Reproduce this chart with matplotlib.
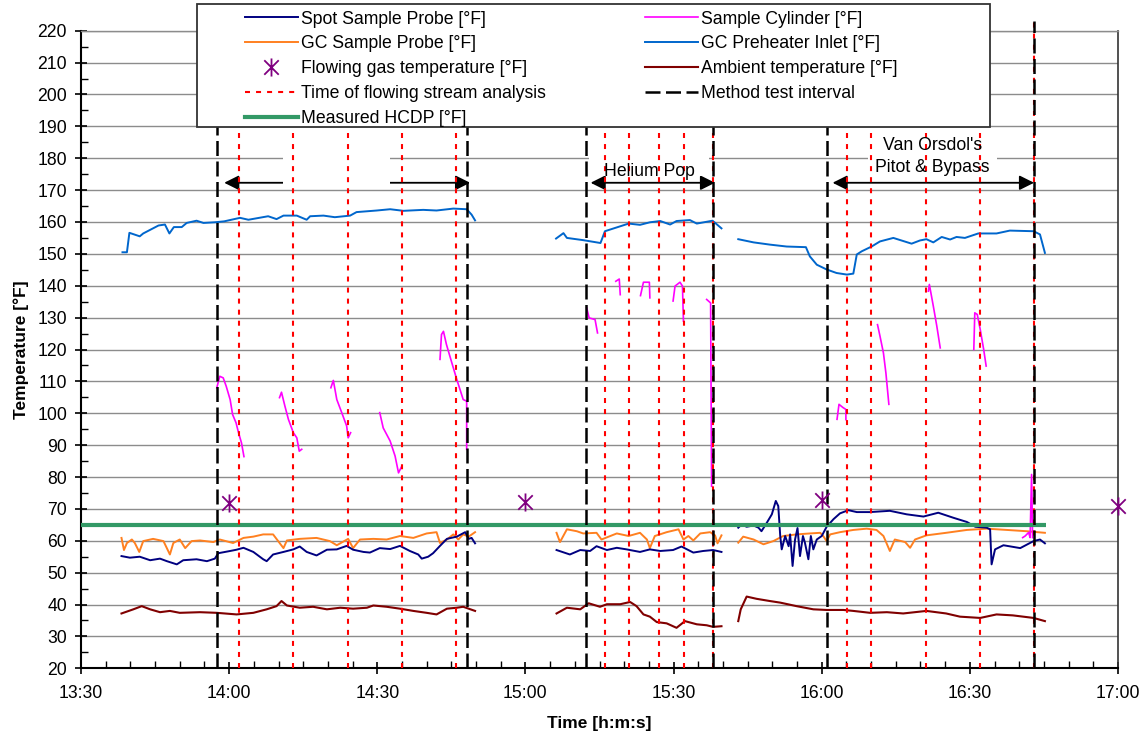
#!/usr/bin/env python3
"""Temperature traces recorded during the three method test intervals."""

import matplotlib as mpl
import matplotlib.pyplot as plt
from matplotlib.lines import Line2D
from matplotlib.patches import Rectangle
from matplotlib.path import Path
from matplotlib.ticker import FuncFormatter, MultipleLocator

OUT = "out.png"

# Time axis: minutes after 13:30.  Each series is split into logging segments.
preheat_t = [
    [8.4, 9.3, 9.8, 11.9, 12.6, 15.7, 17.0, 17.9, 18.8, 20.4, 21.4, 23.4, 24.8, 27.1, 29.0, 32.2, 33.9, 37.9,
     39.6, 41.0, 43.7, 45.7, 46.4, 49.1, 51.4, 54.5, 55.8, 59.9, 62.6, 65.3, 69.3, 72.0, 75.4, 78.1, 79.1, 79.8],
    [96.2, 97.7, 98.4, 101.7, 105.2, 106.1, 107.5, 110.9, 113.2, 115.2, 117.3, 119.3, 120.6, 123.3, 124.7, 127.9,
     129.7],
    [133.1, 136.2, 139.5, 142.9, 146.8, 147.6, 149.0, 151.0, 153.0, 155.1, 156.4, 157.1, 158.1, 160.1, 161.8,
     164.5, 168.2, 169.9, 171.2, 172.6, 174.3, 176.0, 177.3, 179.0, 181.7, 185.4, 188.1, 192.9, 194.2, 195.2],
]
preheat_v = [
    [150.5, 150.5, 156.6, 155.5, 156.4, 158.9, 159.2, 156.4, 158.4, 158.4, 159.7, 160.4, 159.7, 159.9, 160.2,
     161.3, 160.7, 161.8, 160.9, 162.0, 162.0, 160.7, 161.8, 162.0, 161.5, 162.0, 163.1, 163.6, 164.0, 163.5,
     163.8, 163.6, 164.2, 164.0, 162.3, 160.5],
    [154.8, 156.5, 155.0, 154.3, 153.4, 157.1, 157.8, 159.5, 159.1, 159.9, 160.3, 159.2, 160.3, 160.6, 159.5,
     160.4, 158.0],
    [154.6, 153.6, 152.9, 152.3, 152.1, 149.2, 146.6, 145.1, 144.0, 143.5, 143.8, 149.8, 150.8, 152.3, 153.9,
     155.0, 153.2, 154.2, 154.6, 153.6, 155.3, 154.5, 155.3, 155.0, 156.4, 156.4, 157.3, 157.1, 156.1, 150.3],
]

cyl_t = [
    [27.5, 28.1, 28.8, 29.4, 30.2, 30.7, 31.4, 31.9, 32.5, 33.0],
    [40.2, 40.6, 41.3, 42.0, 43.0, 43.7, 44.2, 44.7],
    [50.6, 51.1, 51.8, 52.8, 53.8, 54.1, 54.6],
    [60.5, 61.2, 62.6, 63.6, 64.3, 64.9],
    [72.7, 73.0, 73.4, 74.0, 75.1, 76.1, 77.4, 78.1, 78.1],
    [102.4, 102.9, 104.1, 104.6],
    [108.3, 109.0, 109.2],
    [113.3, 113.9, 115.1, 115.2],
    [119.9, 120.3, 121.3, 121.8, 122.0],
    [126.7, 127.5, 127.7],
    [153.1, 153.5, 154.3, 154.9, 154.9],
    [161.3, 161.8, 162.5, 163.0, 163.6],
    [171.6, 171.8, 172.6, 173.3, 174.0],
    [180.8, 181.0, 181.5, 182.1, 182.8, 183.3],
    [190.7, 191.2, 191.9, 192.2, 192.5, 192.7],
]
cyl_v = [
    [108.0, 111.6, 111.1, 108.5, 104.3, 99.6, 97.0, 93.9, 90.7, 86.4],
    [104.9, 106.6, 102.2, 98.1, 93.9, 92.3, 88.1, 88.7],
    [108.0, 110.3, 104.3, 100.2, 96.0, 92.3, 93.9],
    [100.2, 95.4, 91.3, 86.6, 81.3, 83.2],
    [116.9, 124.7, 125.7, 121.6, 115.8, 110.6, 104.3, 103.8, 88.7],
    [133.1, 129.9, 129.4, 125.2],
    [141.4, 142.1, 137.2],
    [136.9, 141.1, 141.1, 136.2],
    [135.2, 139.9, 141.1, 139.9, 128.9],
    [135.7, 134.6, 77.1],
    [98.1, 102.8, 101.8, 101.2, 98.0],
    [127.8, 124.2, 118.9, 112.6, 102.8],
    [138.3, 140.4, 133.6, 127.4, 120.5],
    [120.0, 131.5, 131.0, 126.3, 120.0, 114.8],
    [61.0, 61.5, 62.6, 61.0, 80.8, 61.0],
]

spot_t = [
    [8.2, 9.9, 11.9, 14.0, 16.0, 17.4, 19.4, 20.7, 23.4, 25.5, 27.1, 27.8, 30.2, 31.5, 32.9, 34.9, 36.9, 37.6,
     38.9, 41.0, 43.0, 44.3, 45.7, 47.7, 49.8, 51.8, 53.8, 55.1, 57.2, 58.5, 60.5, 62.6, 64.6, 66.6, 68.3, 69.0,
     70.3, 71.3, 72.7, 74.1, 76.1, 77.8, 78.5, 79.1, 79.8],
    [96.3, 99.0, 101.1, 103.1, 104.4, 106.5, 108.5, 110.5, 113.2, 115.2, 117.3, 119.9, 121.6, 124.0, 126.0, 128.0,
     129.7],
    [133.1, 133.8, 134.8, 136.2, 137.2, 137.8, 138.9, 139.9, 140.7, 141.2, 141.6, 141.9, 142.6, 143.3, 143.6,
     144.1, 144.6, 145.1, 145.6, 146.2, 146.6, 147.3, 147.8, 148.3, 149.0, 150.0, 151.0, 152.4, 153.7, 155.4,
     157.1, 159.8, 163.8, 167.2, 170.6, 173.6, 176.7, 179.4, 181.1, 183.4, 184.1, 184.4, 185.1, 186.8, 190.2,
     192.9, 194.2, 195.2],
]
spot_v = [
    [55.2, 54.7, 55.0, 53.9, 54.4, 53.6, 52.6, 53.9, 54.2, 53.6, 54.4, 56.1, 56.8, 57.2, 57.8, 56.5, 54.2, 53.6,
     55.7, 56.5, 57.3, 58.2, 56.5, 55.4, 57.2, 57.3, 58.4, 57.2, 56.5, 56.3, 57.7, 57.4, 58.4, 56.8, 55.7, 54.4,
     55.0, 56.1, 58.4, 60.6, 61.3, 62.7, 60.6, 60.9, 59.2],
    [57.1, 55.7, 57.1, 56.8, 58.3, 57.1, 57.8, 57.3, 56.5, 57.3, 56.8, 57.1, 58.2, 56.3, 56.8, 57.1, 56.5],
    [64.1, 65.1, 64.4, 64.8, 64.1, 63.0, 65.7, 68.3, 72.5, 70.9, 61.5, 57.3, 61.5, 58.3, 62.0, 52.1, 60.4, 64.0,
     55.2, 61.5, 59.4, 54.2, 61.5, 57.3, 60.4, 61.5, 64.4, 66.8, 68.6, 69.6, 69.0, 69.0, 69.4, 68.3, 67.6, 68.8,
     67.2, 65.9, 64.4, 64.1, 63.6, 52.6, 57.3, 58.6, 57.7, 59.9, 60.4, 59.2],
]

gc_t = [
    [8.2, 8.7, 9.3, 10.3, 10.9, 11.8, 12.6, 14.6, 16.7, 18.0, 18.7, 20.0, 21.1, 22.4, 24.1, 26.8, 28.1, 30.8,
     32.9, 34.9, 36.9, 38.9, 41.0, 41.7, 44.3, 47.7, 50.4, 51.8, 54.1, 55.1, 56.5, 59.2, 61.9, 64.6, 67.3, 70.0,
     72.0, 72.7, 74.1, 75.4, 76.4, 77.4, 78.5, 79.8],
    [96.3, 97.0, 98.4, 100.4, 101.7, 104.4, 105.4, 108.5, 110.9, 113.2, 114.6, 115.2, 116.2, 118.6, 121.0, 122.0,
     123.0, 124.0, 125.4, 127.4, 128.4, 128.9, 129.7],
    [133.1, 134.1, 136.2, 138.2, 140.2, 142.2, 144.9, 147.6, 149.7, 150.3, 151.0, 151.7, 153.7, 156.4, 159.1,
     161.1, 162.5, 163.8, 164.8, 166.9, 167.9, 168.9, 171.2, 175.2, 179.4, 183.4, 187.5, 191.5, 195.2],
]
gc_v = [
    [60.9, 57.1, 59.3, 60.4, 59.3, 56.5, 59.9, 60.6, 59.9, 55.7, 59.3, 60.4, 57.7, 59.9, 60.1, 59.6, 60.4, 59.3,
     60.9, 61.3, 62.0, 62.0, 57.7, 60.1, 60.6, 60.9, 59.9, 58.6, 60.6, 57.7, 60.4, 60.6, 60.4, 61.5, 60.9, 62.3,
     62.7, 59.3, 60.4, 62.0, 60.4, 62.0, 61.3, 62.7],
    [62.5, 59.6, 63.6, 63.0, 62.3, 62.5, 60.4, 62.3, 61.5, 62.5, 60.4, 57.7, 61.5, 62.7, 63.6, 60.4, 61.5, 60.1,
     62.3, 62.7, 61.7, 59.2, 61.7],
    [59.4, 61.3, 60.4, 58.9, 59.9, 61.5, 62.0, 62.3, 62.5, 61.5, 59.9, 62.0, 62.7, 63.4, 63.8, 63.4, 61.5, 56.8,
     60.4, 59.6, 57.8, 60.4, 61.7, 62.5, 63.4, 63.8, 63.4, 63.0, 62.5],
]

amb_t = [
    [8.2, 10.6, 12.3, 14.0, 16.0, 18.0, 20.0, 24.1, 27.5, 31.5, 34.9, 37.6, 39.6, 40.6, 41.7, 44.3, 47.0, 49.8,
     52.5, 55.1, 57.9, 59.2, 61.9, 64.6, 67.3, 70.0, 72.0, 74.1, 76.1, 77.4, 78.5, 79.8],
    [96.3, 98.4, 101.1, 102.8, 105.1, 106.5, 109.2, 111.2, 112.5, 113.9, 115.2, 116.6, 118.6, 120.6, 122.3, 124.7,
     126.7, 128.0, 129.7],
    [133.1, 133.6, 134.8, 136.8, 139.5, 141.6, 144.9, 148.3, 151.0, 154.4, 156.4, 159.8, 163.2, 166.5, 171.2,
     175.2, 178.0, 182.1, 185.4, 188.7, 192.9, 195.2],
]
amb_v = [
    [37.2, 38.5, 39.5, 38.5, 37.6, 38.0, 37.4, 37.6, 37.4, 36.9, 37.4, 38.5, 39.5, 41.1, 39.7, 39.0, 39.3, 38.5,
     39.0, 38.7, 39.0, 39.7, 39.3, 38.7, 38.0, 37.4, 36.9, 38.7, 39.0, 39.3, 38.7, 38.0],
    [37.2, 39.0, 38.5, 40.4, 39.3, 40.1, 40.1, 40.8, 39.5, 36.9, 36.2, 34.5, 34.1, 32.7, 34.8, 33.8, 33.5, 33.0,
     33.2],
    [34.8, 38.5, 42.5, 41.8, 41.1, 40.6, 39.5, 38.5, 38.3, 38.3, 38.0, 37.4, 37.6, 37.2, 38.0, 37.2, 36.2, 35.8,
     36.9, 36.6, 35.8, 34.8],
]

flow_t = [30, 90, 150, 210]
flow_v = [71.7, 72.3, 72.7, 70.8]

hcdp_t = [0, 195.5]
hcdp_v = [65, 65]

method_t = [27.5, 78.1, 102.2, 127.9, 151.0, 193.0]
analysis_t = [32.0, 42.9, 54.1, 65.0, 75.9, 106.1, 111.0, 117.1, 122.1, 127.9,
              155.1, 160.0, 171.1, 182.1, 193.0]

NAVY = "#000080"
ORANGE = "#FF8020"
MAGENTA = "#FF00FF"
BLUE = "#0066CC"
MAROON = "#800000"
PURPLE = "#800080"
GREEN = "#339966"
RED = "#FF0000"
GRID = "#8C8C8C"
FS = 12.7

W, H = 1146, 736


def clock(m, _pos=None):
    total = int(round(m)) + 13 * 60 + 30
    return f"{total // 60}:{total % 60:02d}"


def main() -> None:
    mpl.rcParams.update({"font.family": ["Liberation Sans", "DejaVu Sans"], "font.size": FS})

    fig = plt.figure(figsize=(W / 100, H / 100), dpi=100)
    fig.patch.set_facecolor("white")
    ax = fig.add_axes([81 / W, 1 - 668.3 / H, (1118 - 81) / W, (668.3 - 30.7) / H])

    for t, v in zip(amb_t, amb_v):
        ax.plot(t, v, color=MAROON, lw=1.5, zorder=2)
    for t, v in zip(gc_t, gc_v):
        ax.plot(t, v, color=ORANGE, lw=1.4, zorder=2)
    for t, v in zip(spot_t, spot_v):
        ax.plot(t, v, color=NAVY, lw=1.4, zorder=2)
    for t, v in zip(preheat_t, preheat_v):
        ax.plot(t, v, color=BLUE, lw=1.4, zorder=2)
    for t, v in zip(cyl_t, cyl_v):
        ax.plot(t, v, color=MAGENTA, lw=1.2, zorder=2)

    ax.plot(hcdp_t, hcdp_v, color=GREEN, lw=3.0, solid_capstyle="butt", zorder=2.6)

    star = Path([(-1, -1), (1, 1), (-1, 1), (1, -1), (0, -1.25), (0, 1.25)],
                [Path.MOVETO, Path.LINETO, Path.MOVETO, Path.LINETO, Path.MOVETO, Path.LINETO])
    ax.plot(flow_t, flow_v, ls="none", marker=star, ms=13, mew=1.3, color=PURPLE, clip_on=False, zorder=5)

    # Interval arrows; the first one is interrupted by an empty label box.
    arrow = dict(arrowstyle="<|-|>", color="black", lw=1.3, mutation_scale=22, shrinkA=0, shrinkB=0)
    for x0, x1 in [(29.0, 78.8), (103.2, 128.4), (152.2, 193.0)]:
        ax.annotate("", xy=(x1, 172.3), xytext=(x0, 172.3), arrowprops=arrow, zorder=2.2)

    for x0, x1, y0, y1 in [(40.9, 62.6, 171.2, 189), (102.9, 127.2, 174.3, 189), (159.4, 185.5, 174.3, 189.5)]:
        ax.add_patch(Rectangle((x0, y0), x1 - x0, y1 - y0, facecolor="white", edgecolor="none", zorder=2.4))

    ax.text(115.1, 175.8, "Helium Pop", ha="center", va="center", fontsize=FS, zorder=4)
    ax.text(172.4, 180.4, "Van Orsdol's\nPitot & Bypass", ha="center", va="center", fontsize=FS,
            linespacing=1.38, zorder=4)

    ax.vlines(analysis_t, 20, 223, colors=RED, lw=1.5, linestyles=(0, (2.4, 2.9)), clip_on=False, zorder=3)
    ax.vlines(method_t, 20, 223, colors="black", lw=1.8, linestyles=(0, (6, 2.2)), clip_on=False, zorder=3.1)

    ax.set_xlim(0, 210)
    ax.set_ylim(20, 220)
    ax.xaxis.set_major_locator(MultipleLocator(30))
    ax.xaxis.set_minor_locator(MultipleLocator(5))
    ax.xaxis.set_major_formatter(FuncFormatter(clock))
    ax.yaxis.set_major_locator(MultipleLocator(10))
    ax.yaxis.set_minor_locator(MultipleLocator(5))

    ax.yaxis.grid(True, which="major", color=GRID, lw=1.0)
    ax.set_axisbelow(True)

    ax.tick_params(which="major", direction="inout", length=9, width=1.2, labelsize=FS)
    ax.tick_params(which="minor", direction="in", length=5, width=1.0)
    ax.tick_params(axis="x", which="major", pad=7.5)
    ax.tick_params(axis="y", which="major", pad=5.5)

    for side in ("left", "bottom"):
        ax.spines[side].set_color("black")
        ax.spines[side].set_linewidth(1.5)
    ax.spines["top"].set_color(GRID)
    ax.spines["top"].set_linewidth(1.0)
    ax.spines["right"].set_color("#333333")
    ax.spines["right"].set_linewidth(1.2)

    ax.set_ylabel("Temperature [°F]", fontsize=12.5, fontweight="bold", labelpad=6)
    ax.set_xlabel("Time [h:m:s]", fontsize=12.5, fontweight="bold", labelpad=10)

    handles = [
        Line2D([], [], color=NAVY, lw=1.4),
        Line2D([], [], color=ORANGE, lw=1.4),
        Line2D([], [], ls="none", marker=star, ms=13, mew=1.3, color=PURPLE),
        Line2D([], [], color=RED, lw=1.5, ls=(0, (2.4, 2.9))),
        Line2D([], [], color=GREEN, lw=3.0),
        Line2D([], [], color=MAGENTA, lw=1.2),
        Line2D([], [], color=BLUE, lw=1.4),
        Line2D([], [], color=MAROON, lw=1.5),
        Line2D([], [], color="black", lw=1.8, ls=(0, (6, 2.2))),
    ]
    labels = [
        "Spot Sample Probe [°F]",
        "GC Sample Probe [°F]",
        "Flowing gas temperature [°F]",
        "Time of flowing stream analysis",
        "Measured HCDP [°F]",
        "Sample Cylinder [°F]",
        "GC Preheater Inlet [°F]",
        "Ambient temperature [°F]",
        "Method test interval",
    ]

    frame = Rectangle((197 / W, 1 - 127 / H), (990 - 197) / W, (127 - 4) / H, transform=fig.transFigure,
                      facecolor="white", edgecolor="#333333", lw=1.3, zorder=5)
    fig.add_artist(frame)
    leg = fig.legend(handles, labels, ncol=2, loc="upper left", bbox_to_anchor=(245 / W, 1 - 10.5 / H),
                     frameon=False, borderpad=0, borderaxespad=0, handlelength=3.0, handletextpad=0.15,
                     columnspacing=5.67, labelspacing=0.45, fontsize=FS)
    leg.set_zorder(6)

    fig.savefig(OUT, dpi=100, facecolor="white")


if __name__ == "__main__":
    main()
